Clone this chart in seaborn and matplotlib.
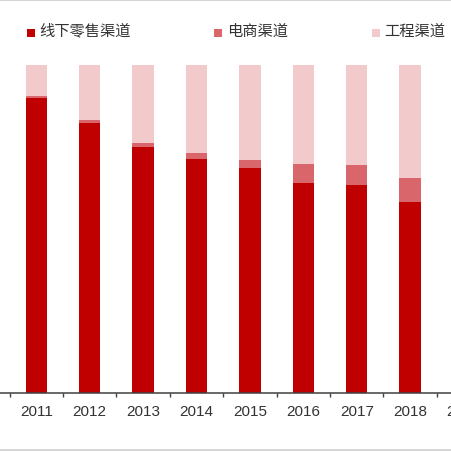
import matplotlib
matplotlib.use("Agg")
import matplotlib.pyplot as plt
from matplotlib.patches import Rectangle
from matplotlib.lines import Line2D
import seaborn as sns
import pandas as pd

years = ["2011", "2012", "2013", "2014", "2015", "2016", "2017", "2018"]
tick_labels = ["2010", "2011", "2012", "2013", "2014", "2015", "2016", "2017", "2018", "2019"]
retail = [90.0, 82.4, 75.1, 71.5, 68.6, 64.1, 63.5, 58.2]
ecommerce = [0.6, 0.7, 1.2, 1.8, 2.6, 5.8, 5.9, 7.5]
engineering = [9.4, 16.9, 23.7, 26.7, 28.8, 30.1, 30.6, 34.3]
series_names = ["线下零售渠道", "电商渠道", "工程渠道"]
colors = ["#C00000", "#D9666B", "#F2CACC"]

sns.set_theme(style="white")
plt.rcParams["font.family"] = ["Noto Sans CJK SC", "DejaVu Sans"]

W = H = 452
fig = plt.figure(figsize=(4.52, 4.52), dpi=100)

# axes geometry in pixels (axes extends beyond the figure, like a crop)
L_px, R_px = -60, 512
top_px, bot_px = 66.0, 394.3
ax = fig.add_axes([L_px / W, (H - bot_px) / H, (R_px - L_px) / W, (bot_px - top_px) / H])

df = pd.DataFrame({"year": years, "retail": retail, "ecom": ecommerce, "eng": engineering})
bottom2 = [a + b for a, b in zip(retail, ecommerce)]

sns.barplot(data=df, x="year", y="retail", order=years, color=colors[0],
            width=0.4, linewidth=0, saturation=1, ax=ax)
sns.barplot(data=df, x="year", y="ecom", order=years, color=colors[1],
            width=0.4, linewidth=0, saturation=1, bottom=retail, ax=ax)
sns.barplot(data=df, x="year", y="eng", order=years, color=colors[2],
            width=0.4, linewidth=0, saturation=1, bottom=bottom2, ax=ax)

c0, step = 36.3, 53.4
ax.set_xlim((L_px - c0) / step, (R_px - c0) / step)
ax.set_ylim(0, 100)

ax.set_xticks([i - 0.5 for i in range(-1, 10)])
ax.set_xticklabels([])
ax.set_xticks(list(range(-1, 9)), minor=True)
ax.set_xticklabels(tick_labels, minor=True, family="Liberation Sans",
                   fontsize=11, color="#333333")
ax.tick_params(axis="x", which="major", length=3, width=1, color="#404040",
               direction="out", bottom=True)
ax.tick_params(axis="x", which="minor", length=0, pad=7.5, bottom=True)
ax.set_yticks([])
ax.set_xlabel("")
ax.set_ylabel("")
for s in ["top", "right", "left"]:
    ax.spines[s].set_visible(False)
ax.spines["bottom"].set_color("#404040")
ax.spines["bottom"].set_linewidth(1.1)

# legend (manual placement in pixel coordinates)
leg_sq_x = [27, 214, 372]
leg_txt_x = [39, 227, 384]
for name, col, sx, tx in zip(series_names, colors, leg_sq_x, leg_txt_x):
    fig.add_artist(Rectangle((sx / W, (H - 38) / H), 8 / W, 8 / H,
                             transform=fig.transFigure, facecolor=col,
                             edgecolor="none"))
    fig.text(tx / W, (H - 31) / H, name, fontsize=11, color="#333333",
             ha="left", va="center")

# light gray frame lines of the original crop
fig.add_artist(Line2D([0, 1], [1 - 1 / H, 1 - 1 / H], transform=fig.transFigure,
                      color="#D4D4D4", linewidth=1.5))
fig.add_artist(Line2D([0, 1], [1.5 / H, 1.5 / H], transform=fig.transFigure,
                      color="#D4D4D4", linewidth=2))

fig.savefig("out.png", dpi=100)
